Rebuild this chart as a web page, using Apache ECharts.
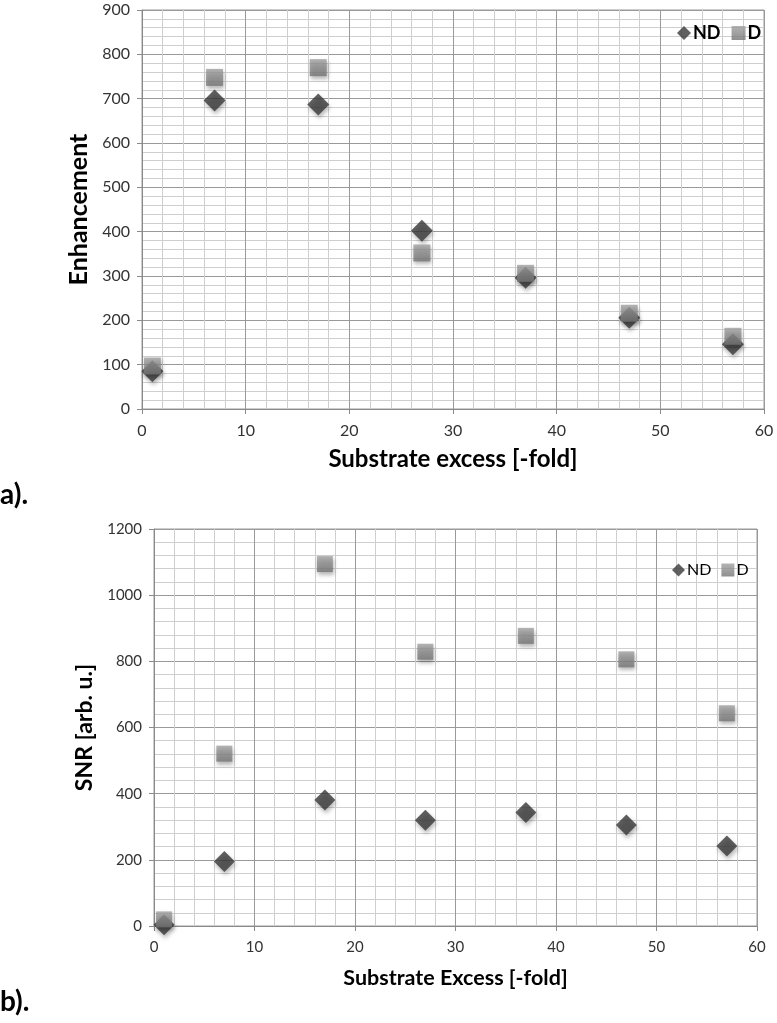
<!DOCTYPE html>
<html>
<head>
<meta charset="utf-8">
<script src="https://cdn.jsdelivr.net/npm/echarts@6/dist/echarts.min.js"></script>
<style>
html,body{margin:0;padding:0;background:#fff;}
#chart{width:777px;height:1023px;}
</style>
</head>
<body>
<div id="chart"></div>
<script>
// ---- data ----
const xVals = [1, 7, 17, 27, 37, 47, 57];
const enhND = [85, 696, 687, 402, 296, 206, 146];
const enhD  = [97, 748, 770, 352, 306, 216, 164];
const snrND = [4, 195, 381, 320, 343, 305, 242];
const snrD  = [20, 521, 1094, 829, 877, 806, 643];
const seriesNames = ['ND', 'D'];
const xTitleA = 'Substrate excess [-fold]';
const yTitleA = 'Enhancement';
const xTitleB = 'Substrate Excess [-fold]';
const yTitleB = 'SNR [arb. u.]';
const panelLabels = ['a).', 'b).'];

const FONT = 'Lato';
const pairs = (xs, ys) => xs.map((x, i) => [x, ys[i]]);

const chart = echarts.init(document.getElementById('chart'), null, {renderer: 'canvas'});

const majorLine = {show: true, lineStyle: {color: '#9a9a9a', width: 1}};
const minorLine = {show: true, lineStyle: {color: '#cfcfcf', width: 1}};
const axisLine = {show: true, lineStyle: {color: '#8a8a8a', width: 1}};
const axisTick = {show: true, length: 5, lineStyle: {color: '#8a8a8a'}};
const plain = v => String(v);

function xAxis(gridIndex, name, fs, nameFs, nameGap) {
  return {
    type: 'value', gridIndex, min: 0, max: 60, interval: 10,
    name, nameLocation: 'middle', nameGap,
    nameTextStyle: {fontFamily: FONT, fontWeight: 'bold', fontSize: nameFs, color: '#000'},
    axisLine, axisTick,
    axisLabel: {fontFamily: FONT, fontSize: fs, color: '#333', margin: 14, formatter: plain},
    splitLine: majorLine,
    minorTick: {show: false, splitNumber: 5},
    minorSplitLine: minorLine
  };
}
function yAxis(gridIndex, name, max, interval, fs, nameFs, nameGap) {
  return {
    type: 'value', gridIndex, min: 0, max, interval,
    name, nameLocation: 'middle', nameGap,
    nameTextStyle: {fontFamily: FONT, fontWeight: 'bold', fontSize: nameFs, color: '#000'},
    axisLine, axisTick,
    axisLabel: {fontFamily: FONT, fontSize: fs, color: '#333', margin: 12, formatter: plain},
    splitLine: majorLine,
    minorTick: {show: false, splitNumber: 5},
    minorSplitLine: minorLine
  };
}

const squareColor = new echarts.graphic.LinearGradient(0, 0, 0, 1, [
  {offset: 0, color: '#a0a0a0'}, {offset: 1, color: '#747474'}
]);
const shadow = {shadowBlur: 4, shadowOffsetX: 1, shadowOffsetY: 3, shadowColor: 'rgba(0,0,0,0.35)'};

function ndSeries(idx, data, size) {
  return {
    name: seriesNames[0], type: 'scatter', xAxisIndex: idx, yAxisIndex: idx,
    symbol: 'diamond', symbolSize: size, data,
    itemStyle: Object.assign({color: '#383838'}, shadow)
  };
}
function dSeries(idx, data, size) {
  return {
    name: seriesNames[1], type: 'scatter', xAxisIndex: idx, yAxisIndex: idx,
    symbol: 'rect', symbolSize: size, data,
    itemStyle: Object.assign({color: squareColor}, shadow)
  };
}

const option = {
  animation: false,
  backgroundColor: '#fff',
  grid: [
    {left: 142, top: 10, width: 622, height: 399, show: true, borderColor: '#9a9a9a', borderWidth: 1},
    {left: 154, top: 529, width: 603, height: 397, show: true, borderColor: '#9a9a9a', borderWidth: 1}
  ],
  xAxis: [
    xAxis(0, xTitleA, 16, 24, 38),
    xAxis(1, xTitleB, 15, 21.5, 41)
  ],
  yAxis: [
    yAxis(0, yTitleA, 900, 100, 16, 25, 45),
    yAxis(1, yTitleB, 1200, 200, 15, 23, 53)
  ],
  legend: [
    {
      data: [{name: 'ND', icon: 'diamond'}, {name: 'D', icon: 'rect'}],
      left: 672, top: 19, itemWidth: 14, itemHeight: 14, itemGap: 11,
      textStyle: {fontFamily: FONT, fontWeight: 'bold', fontSize: 18, color: '#000', padding: [0,0,0,-3]},
      selectedMode: false
    },
    {
      data: [{name: 'ND', icon: 'diamond'}, {name: 'D', icon: 'rect'}],
      left: 667, top: 557, itemWidth: 13, itemHeight: 13, itemGap: 10,
      textStyle: {fontFamily: FONT, fontSize: 16, color: '#000', padding: [0,0,0,-3]},
      selectedMode: false
    }
  ],
  graphic: [
    {type: 'text', left: 0, top: 481, style: {text: panelLabels[0], font: 'bold 28px Lato', fill: '#000'}},
    {type: 'text', left: 0, top: 988, style: {text: panelLabels[1], font: 'bold 28px Lato', fill: '#000'}}
  ],
  series: [
    ndSeries(0, pairs(xVals, enhND), 22),
    dSeries(0, pairs(xVals, enhD), 17),
    ndSeries(1, pairs(xVals, snrND), 21),
    dSeries(1, pairs(xVals, snrD), 16)
  ]
};
chart.setOption(option);
</script>
</body>
</html>
